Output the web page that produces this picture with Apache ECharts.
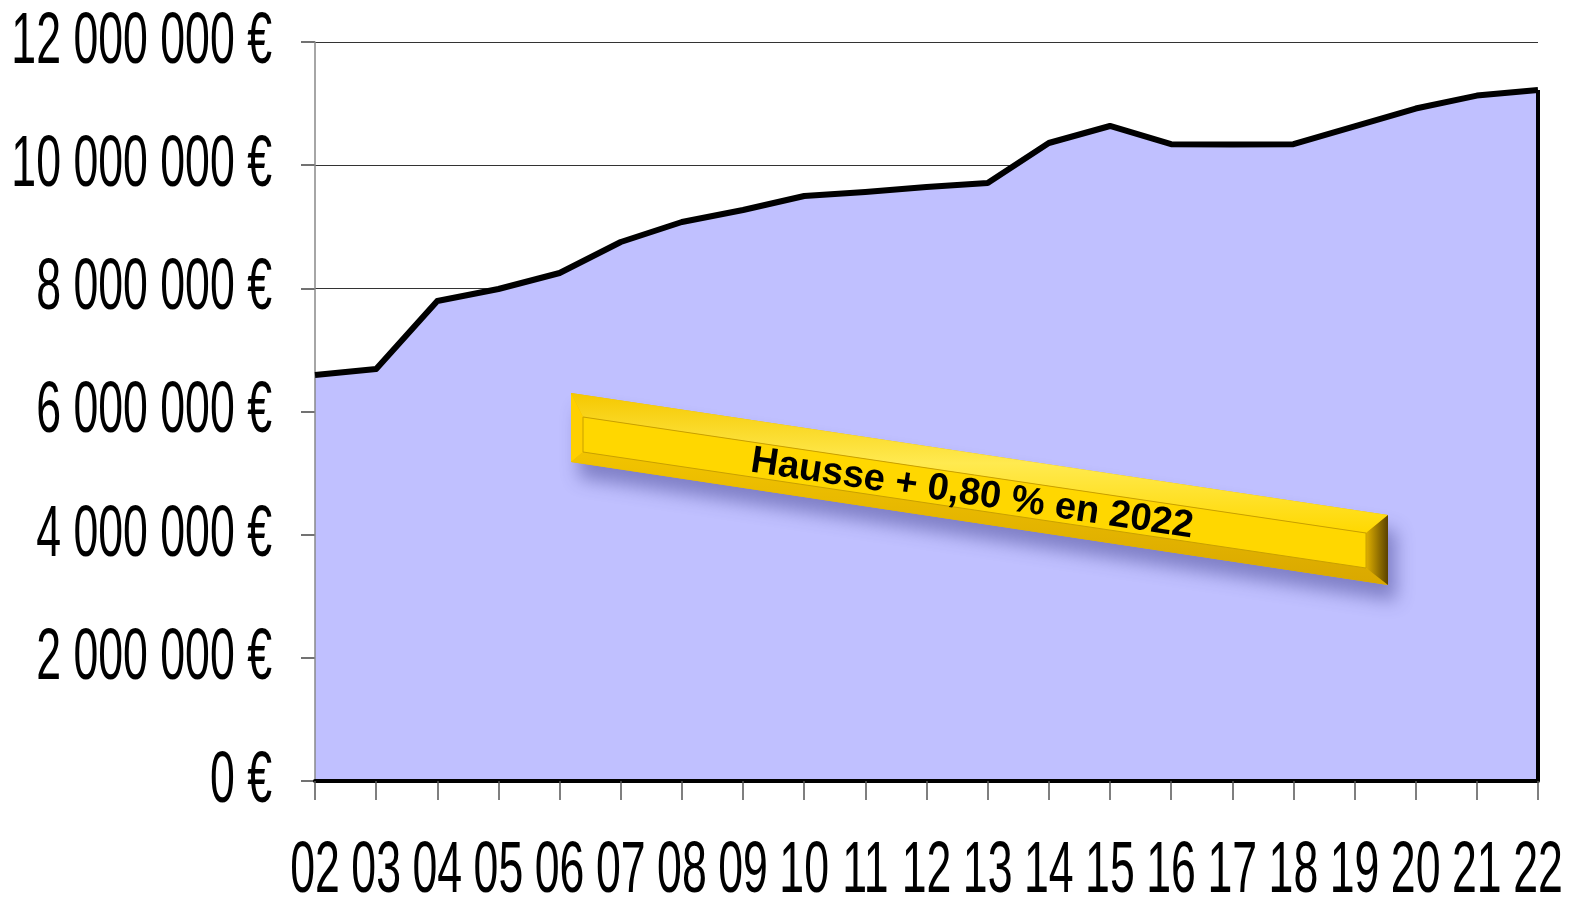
<!DOCTYPE html>
<html>
<head>
<meta charset="utf-8">
<script src="https://cdn.jsdelivr.net/npm/echarts@6/dist/echarts.min.js"></script>
<style>
    html, body { margin: 0; padding: 0; background: #ffffff; }
    #chart { width: 1572px; height: 900px; }
</style>
</head>
<body>
<div id="chart"></div>
<script>
// années (axe x) et montants (axe y)
let years = ['02', '03', '04', '05', '06', '07', '08', '09', '10', '11', '12',
    '13', '14', '15', '16', '17', '18', '19', '20', '21', '22'];
let amounts = [6593000, 6690000, 7794000, 7989000, 8249000, 8752000, 9077000, 9272000,
    9499000, 9564000, 9645000, 9710000, 10360000, 10636000, 10340000, 10335000,
    10340000, 10630000, 10920000, 11130000, 11220000];
let yTicks = [0, 2000000, 4000000, 6000000, 8000000, 10000000, 12000000];
let bannerText = 'Hausse + 0,80 % en 2022';

// police étroite simulée : Liberation Sans comprimée horizontalement
let labelFont = '72px "Liberation Sans", Arial, sans-serif';
let squeeze = 0.62;
let gridLeft = 315;
let gridRight = 34;
let gridTop = 42;
let gridBottom = 119;

// format 12 000 000 €
let euro = (v) => {
    let s = String(Math.round(v)).replace(/\B(?=(\d{3})+(?!\d))/g, ' ');
    return s + ' €';
};

let lastYear = years[years.length - 1];
let lastAmount = amounts[amounts.length - 1];

let chart = echarts.init(document.getElementById('chart'));

let option = {
    backgroundColor: '#ffffff',
    animation: false,
    grid: {
        left: gridLeft,
        right: gridRight,
        top: gridTop,
        bottom: gridBottom,
        outerBoundsMode: 'none',
        containLabel: false
    },
    xAxis: {
        type: 'category',
        data: years,
        boundaryGap: false,
        z: 3,
        axisLine: {
            lineStyle: { color: '#000000', width: 4 }
        },
        axisTick: {
            show: true,
            alignWithLabel: true,
            length: 19,
            lineStyle: { color: '#555555', width: 1.5 }
        },
        axisLabel: { show: false },
        splitLine: { show: false }
    },
    yAxis: [
        {
            type: 'value',
            min: yTicks[0],
            max: yTicks[yTicks.length - 1],
            interval: yTicks[1] - yTicks[0],
            axisLine: { show: false },
            axisTick: {
                show: true,
                length: 14,
                lineStyle: { color: '#444444', width: 1.5 }
            },
            axisLabel: { show: false },
            splitLine: {
                show: true,
                lineStyle: { color: '#333333', width: 1.2 }
            }
        },
        {
            // trait vertical de l'axe, au-dessus de l'aire
            type: 'value',
            position: 'left',
            min: yTicks[0],
            max: yTicks[yTicks.length - 1],
            interval: yTicks[1] - yTicks[0],
            z: 3,
            axisLine: {
                show: true,
                lineStyle: { color: '#888888', width: 1.5 }
            },
            axisTick: { show: false },
            axisLabel: { show: false },
            splitLine: { show: false }
        }
    ],
    series: [
        {
            type: 'line',
            data: amounts,
            symbol: 'none',
            lineStyle: { color: '#000000', width: 6, join: 'round' },
            areaStyle: { color: '#C0C0FF', opacity: 1 },
            markLine: {
                silent: true,
                symbol: 'none',
                label: { show: false },
                lineStyle: { color: '#000000', width: 4, type: 'solid' },
                data: [
                    [
                        { coord: [lastYear, 0] },
                        { coord: [lastYear, lastAmount] }
                    ]
                ]
            }
        }
    ],
    graphic: [
        // bandeau jaune
        {
            type: 'polygon',
            z: 10,
            shape: { points: [[571, 393], [1388, 515], [1388, 585], [571, 462]] },
            style: {
                fill: '#E8B800',
                shadowBlur: 18,
                shadowOffsetX: 8,
                shadowOffsetY: 16,
                shadowColor: 'rgba(50, 50, 130, 0.45)'
            }
        },
        {
            type: 'polygon',
            z: 11,
            shape: { points: [[571, 393], [1388, 515], [1366, 533], [583, 417]] },
            style: {
                fill: {
                    type: 'linear', x: 0, y: 0, x2: 0, y2: 1,
                    colorStops: [
                        { offset: 0, color: '#F5C800' },
                        { offset: 0.5, color: '#FFEA50' },
                        { offset: 1, color: '#FFD800' }
                    ]
                }
            }
        },
        {
            type: 'polygon',
            z: 11,
            shape: { points: [[571, 393], [583, 417], [583, 452], [571, 462]] },
            style: { fill: '#FFD000' }
        },
        {
            type: 'polygon',
            z: 11,
            shape: { points: [[583, 452], [1366, 568], [1388, 585], [571, 462]] },
            style: {
                fill: {
                    type: 'linear', x: 0, y: 0, x2: 0, y2: 1,
                    colorStops: [
                        { offset: 0, color: '#F2C400' },
                        { offset: 1, color: '#D9A800' }
                    ]
                }
            }
        },
        {
            type: 'polygon',
            z: 11,
            shape: { points: [[1366, 533], [1388, 515], [1388, 585], [1366, 568]] },
            style: {
                fill: {
                    type: 'linear', x: 0, y: 0, x2: 1, y2: 0,
                    colorStops: [
                        { offset: 0, color: '#E0B000' },
                        { offset: 1, color: '#5A4200' }
                    ]
                }
            }
        },
        {
            type: 'polygon',
            z: 12,
            shape: { points: [[583, 417], [1366, 533], [1366, 568], [583, 452]] },
            style: {
                fill: '#FFD700',
                stroke: '#C9A000',
                lineWidth: 1
            }
        },
        {
            type: 'text',
            z: 13,
            x: 972,
            y: 494,
            rotation: -0.1485,
            style: {
                text: bannerText,
                fill: '#000000',
                font: 'bold 38px "Liberation Sans", Arial, sans-serif',
                align: 'center',
                verticalAlign: 'middle'
            }
        }
    ]
};

chart.setOption(option);

// étiquettes des axes placées par les échelles d'ECharts
let labels = [];
yTicks.forEach((v) => {
    let py = chart.convertToPixel({yAxisIndex: 0}, v);
    labels.push({
        type: 'text',
        x: gridLeft - 43,
        y: py + 1,
        scaleX: squeeze,
        style: {
            text: euro(v),
            fill: '#000000',
            font: labelFont,
            align: 'right',
            verticalAlign: 'middle'
        }
    });
});
let axisY = 900 - gridBottom;
years.forEach((y) => {
    let px = chart.convertToPixel({xAxisIndex: 0}, y);
    labels.push({
        type: 'text',
        x: px,
        y: axisY + 91,
        scaleX: squeeze,
        style: {
            text: y,
            fill: '#000000',
            font: labelFont,
            align: 'center',
            verticalAlign: 'middle'
        }
    });
});
chart.setOption({graphic: option.graphic.concat(labels)});
</script>
</body>
</html>
